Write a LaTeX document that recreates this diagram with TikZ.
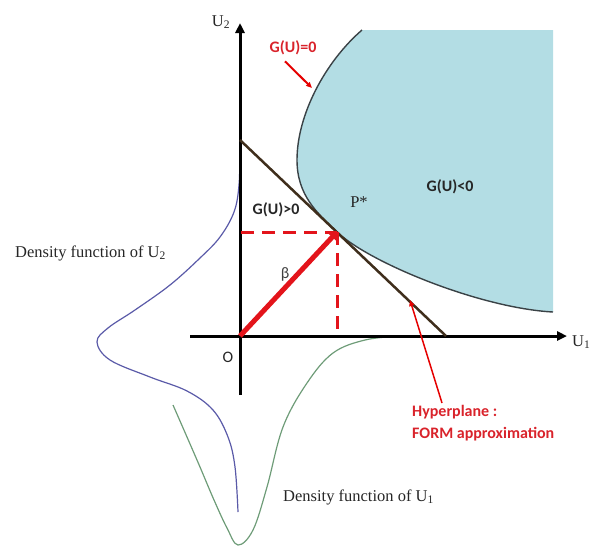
\documentclass[tikz,border=0pt]{standalone}
\usepackage{fontspec}
\setmainfont{Liberation Serif}
\newfontfamily\calib{Carlito}
\usetikzlibrary{arrows.meta}
\definecolor{skyfill}{HTML}{B3DDE4}
\definecolor{limitgray}{HTML}{3A4246}
\definecolor{planebrown}{HTML}{3F2E1C}
\definecolor{fred}{HTML}{E3141B}
\definecolor{labred}{HTML}{D9232B}
\definecolor{densblue}{HTML}{5A5AA8}
\definecolor{densgreen}{HTML}{6E9C78}
\begin{document}
\begin{tikzpicture}[x=1pt,y=-1pt,
  axisline/.style={line width=3pt,black,-{Triangle[length=10pt,width=9pt]}},
  redlab/.style={font=\calib\bfseries\fontsize{16}{22}\selectfont,text=labred,inner sep=0pt},
  zonelab/.style={font=\calib\bfseries\fontsize{16}{20}\selectfont,text=black!85,inner sep=0pt},
  serlab/.style={font=\fontsize{16.5}{20}\selectfont,text=black!85,inner sep=0pt},
  dashred/.style={line width=3pt,fred,dash pattern=on 13pt off 8pt},
  pointer/.style={red!90!black,-{Triangle[length=6pt,width=5pt]}}]
\useasboundingbox (0,0) rectangle (593,547);
\clip (0,0) rectangle (593,547);
% limit state curve
\def\limitpath{(362,30) .. controls (325,62) and (297,115) .. (297,160) .. controls (297,195) and (317,213) .. (337,232) .. controls (370,263) and (480,308) .. (553,312)}
\fill[skyfill] \limitpath -- (553,30) -- cycle;
\draw[limitgray,line width=1.4pt] \limitpath;
% density curves
\draw[densblue,line width=1.2pt] plot[smooth,tension=0.6] coordinates {(240,148) (239,185) (234,212) (220,237) (200,258) (170,285) (135,310) (108,328) (97,342) (110,360) (150,377) (187,391) (213,410) (228,437) (235,467) (238,512)};
\draw[densgreen,line width=1.2pt] plot[smooth,tension=0.6] coordinates {(173,405) (187,437) (200,467) (214,500) (227,528) (238,545) (253,530) (267,487) (283,427) (307,383) (333,353) (365,340) (400,336)};
% coordinates
\coordinate (O) at (240,336);
\coordinate (P) at (337,232);
\coordinate (ybot) at (240,395);
\coordinate (ytop) at (240,23);
\coordinate (xleft) at (190,336);
\coordinate (xright) at (567,336);
\coordinate (planeA) at (240,140);
\coordinate (planeB) at (446,336);
\coordinate (Py) at (241,232);
\coordinate (Px) at (337,336);
% axes
\draw[axisline] (ybot) -- (ytop);
\draw[axisline] (xleft) -- (xright);
% hyperplane
\draw[planebrown,line width=2.5pt] (planeA) -- (planeB);
% projections
\draw[dashred] (Py) -- (P);
\draw[dashred] (P) -- (Px);
% beta vector
\draw[fred,line width=5pt,-{Triangle[length=7pt,width=10pt]}] (O) -- (P);
% labels
\node[serlab] (u2) at (221,22) {U\textsubscript{2}};
\node[serlab,anchor=west] (u1) at (572,342) {U\textsubscript{1}};
\node[font=\calib\fontsize{16}{20}\selectfont,text=black!85,inner sep=0pt] (olab) at (228,357) {O};
\node[zonelab] (gpos) at (276,210) {G(U)>0};
\node[zonelab] (gneg) at (450,187) {G(U)<0};
\node[redlab] (gzero) at (293,48) {G(U)=0};
\node[serlab] (pstar) at (359,202) {P*};
\node[font=\calib\fontsize{16}{20}\selectfont,text=black!75,inner sep=0pt] (beta) at (285,274) {β};
\node[serlab,anchor=west] (d2) at (15,253) {Density function of U\textsubscript{2}};
\node[serlab,anchor=west] (d1) at (283,497) {Density function of U\textsubscript{1}};
\node[redlab,anchor=north west,align=left] (hyp) at (412,405) {Hyperplane :\\FORM approximation};
% pointers
\coordinate (gzeroTip) at (312,88);
\coordinate (hypTip) at (410,300);
\draw[pointer,line width=2pt] (gzero.south) ++(-8,6) -- (gzeroTip);
\draw[pointer,line width=1.5pt] (hyp.north west) ++(30,-2) -- (hypTip);
\end{tikzpicture}
\end{document}
